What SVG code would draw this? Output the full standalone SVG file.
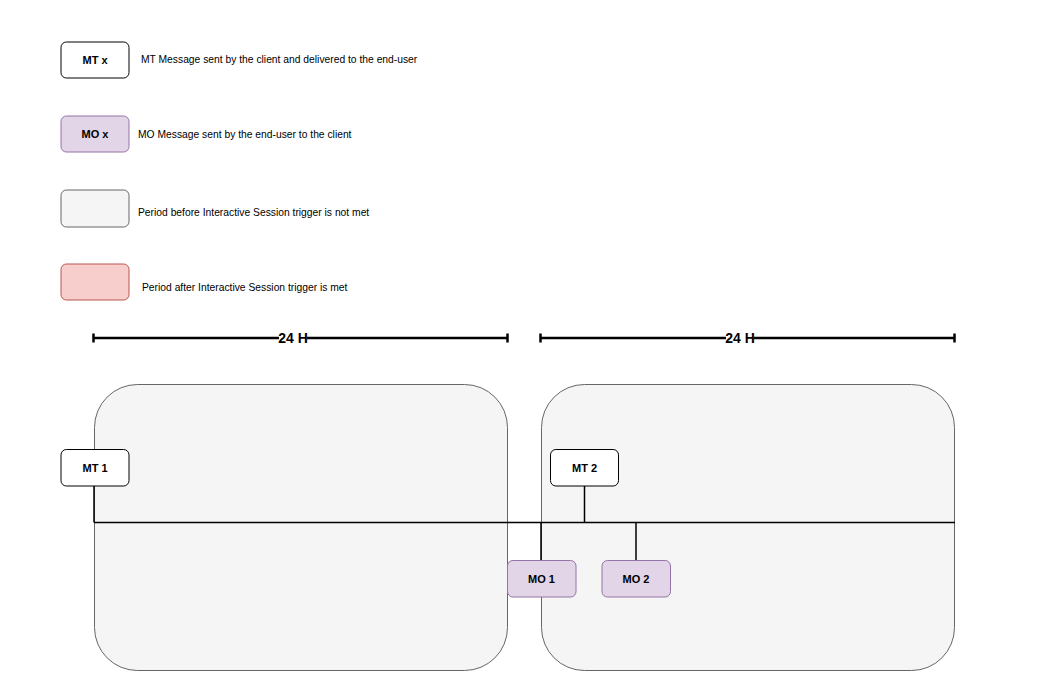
<svg xmlns="http://www.w3.org/2000/svg" width="1038" height="688" viewBox="0 0 1038 688">
<style>
.mt{fill:#ffffff;stroke:#000000;stroke-width:1}
.mo{fill:#e1d5e7;stroke:#9673a6;stroke-width:1}
.gr{fill:#f5f5f5;stroke:#666666;stroke-width:1}
.rd{fill:#f8cecc;stroke:#b85450;stroke-width:1}
.lbl{font-family:"Liberation Sans",Arial,sans-serif;font-size:11px;font-weight:bold;fill:#000;text-anchor:middle;dominant-baseline:central}
.leg{font-family:"Liberation Sans",Arial,sans-serif;font-size:10.3px;fill:#000;dominant-baseline:central}
.dim{font-family:"Liberation Sans",Arial,sans-serif;font-size:14px;font-weight:bold;fill:#000;text-anchor:middle;dominant-baseline:central}
.ln{stroke:#000;stroke-width:1.5;fill:none}
.dl{stroke:#000;stroke-width:2.5;fill:none}
</style>
<rect width="1038" height="688" fill="#ffffff"/>
<g id="legend">
<g id="legend-mt"><rect class="mt" x="61" y="42" width="68" height="36" rx="5.4"/><text class="lbl" x="95" y="60">MT x</text><text class="leg" x="141" y="59">MT Message sent by the client and delivered to the end-user</text></g>
<g id="legend-mo"><rect class="mo" x="61" y="116" width="68" height="36" rx="5.4"/><text class="lbl" x="95" y="134">MO x</text><text class="leg" x="138" y="134">MO Message sent by the end-user to the client</text></g>
<g id="legend-before"><rect class="gr" x="61" y="190" width="68" height="37" rx="5.4"/><text class="leg" x="138" y="212">Period before Interactive Session trigger is not met</text></g>
<g id="legend-after"><rect class="rd" x="61" y="264" width="68" height="36" rx="5.4"/><text class="leg" x="142" y="287">Period after Interactive Session trigger is met</text></g>
</g>
<g id="period1"><rect class="gr" x="94.5" y="384.5" width="413" height="286" rx="43"/></g>
<g id="period2"><rect class="gr" x="541.5" y="384.5" width="413" height="286" rx="43"/></g>
<g id="dimension1">
<path class="dl" d="M93.5 338H507.5M93.5 333.5V342.5M507.5 333.5V342.5"/>
<rect x="279" y="330" width="28" height="16" fill="#ffffff"/>
<text class="dim" x="293" y="338">24 H</text>
</g>
<g id="dimension2">
<path class="dl" d="M540.5 338H954.5M540.5 333.5V342.5M954.5 333.5V342.5"/>
<rect x="726" y="330" width="28" height="16" fill="#ffffff"/>
<text class="dim" x="740" y="338">24 H</text>
</g>
<g id="connectors">
<path class="ln" d="M94 522.5H955"/>
<path class="ln" d="M94 486V522.5"/>
<path class="ln" d="M584.5 486V522.5"/>
<path class="ln" d="M541 522.5V560"/>
<path class="ln" d="M636 522.5V560"/>
</g>
<g id="mt1"><rect class="mt" x="61" y="449.5" width="68" height="36.5" rx="5.4"/><text class="lbl" x="95" y="467.5">MT 1</text></g>
<g id="mt2"><rect class="mt" x="550.5" y="449.5" width="68" height="36.5" rx="5.4"/><text class="lbl" x="584.5" y="467.5">MT 2</text></g>
<g id="mo1"><rect class="mo" x="507.5" y="560.5" width="68.5" height="36.5" rx="5.4"/><text class="lbl" x="541.5" y="578.5">MO 1</text></g>
<g id="mo2"><rect class="mo" x="602" y="560.5" width="68.5" height="36.5" rx="5.4"/><text class="lbl" x="636" y="578.5">MO 2</text></g>
</svg>
